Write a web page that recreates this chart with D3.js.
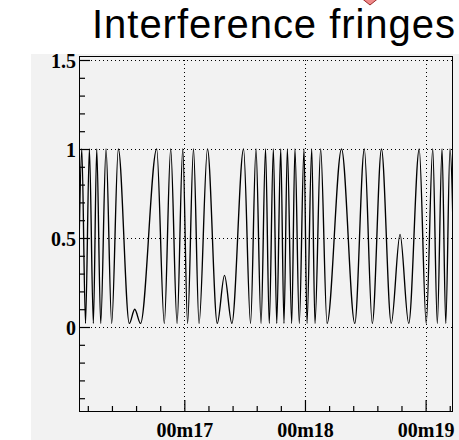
<!DOCTYPE html>
<html>
<head>
<meta charset="utf-8">
<script src="https://cdn.jsdelivr.net/npm/d3@7"></script>
<style>
  html, body { margin: 0; padding: 0; background: #ffffff; }
  svg { display: block; }
</style>
</head>
<body>
<svg id="chart" width="459" height="440"></svg>
<script>
// ---- data ----
const title = "Interference fringes";
// time in seconds (axis shows 00mSS)
const times = [
  16.130, 16.150, 16.181, 16.213, 16.246, 16.274, 16.307, 16.351, 16.398, 16.453,
  16.544, 16.589, 16.637, 16.771, 16.834, 16.887, 16.940, 16.987, 17.027, 17.076,
  17.122, 17.192, 17.273, 17.333, 17.394, 17.491, 17.549, 17.594, 17.636, 17.673,
  17.704, 17.738, 17.766, 17.799, 17.826, 17.854, 17.890, 17.917, 17.953, 17.992,
  18.017, 18.056, 18.083, 18.130, 18.183, 18.303, 18.413, 18.492, 18.558, 18.634,
  18.715, 18.788, 18.860, 18.947, 19.005, 19.059, 19.097, 19.136, 19.167, 19.202,
  19.243
];
const values = [
  0.55, 1.00, 0.02, 1.00, 0.02, 1.00, 0.02, 1.00, 0.02, 1.00,
  0.02, 0.10, 0.02, 1.00, 0.02, 1.00, 0.02, 1.00, 0.02, 1.00,
  0.02, 1.00, 0.02, 0.29, 0.02, 1.00, 0.02, 1.00, 0.02, 1.00,
  0.02, 1.00, 0.02, 1.00, 0.02, 1.00, 0.02, 1.00, 0.02, 1.00,
  0.02, 1.00, 0.02, 1.00, 0.02, 1.00, 0.02, 1.00, 0.02, 1.00,
  0.02, 0.52, 0.02, 1.00, 0.02, 1.00, 0.02, 1.00, 0.02, 1.00,
  0.02
];
const xDomain = [16.127, 19.227];
const yDomain = [-0.4775, 1.5225];
const xMajorTicks = [17, 18, 19];
const xMinorTicks = [16.2, 16.4, 16.6, 16.8, 17.2, 17.4, 17.6, 17.8, 18.2, 18.4, 18.6, 18.8, 19.2];
const yMajorTicks = [0, 0.5, 1, 1.5];
const yMinorTicks = [-0.4, -0.3, -0.2, -0.1, 0.1, 0.2, 0.3, 0.4, 0.6, 0.7, 0.8, 0.9, 1.1, 1.2, 1.3, 1.4];

// ---- layout ----
const frame = { left: 79, right: 453, top: 56, bottom: 412 };
const svg = d3.select("#chart");

// pad background
svg.append("rect").attr("x", 31).attr("y", 54).attr("width", 459 - 31).attr("height", 440 - 54)
  .attr("fill", "#f2f2f2");

// partially visible marker at the top
svg.append("path")
  .attr("d", "M370,-11 L380,-3 L370,5 L360,-3 Z")
  .attr("fill", "#f08a8a").attr("stroke", "#9a2a2a").attr("stroke-width", 1);

// title
svg.append("text")
  .attr("x", 455).attr("y", 38)
  .attr("text-anchor", "end")
  .attr("font-family", "'Liberation Sans', Arial, sans-serif")
  .attr("font-size", 40)
  .attr("textLength", 363).attr("lengthAdjust", "spacing")
  .attr("fill", "#000")
  .text(title);

const x = d3.scaleLinear().domain(xDomain).range([frame.left, frame.right]);
const y = d3.scaleLinear().domain(yDomain).range([frame.bottom, frame.top]);

// clip
svg.append("defs").append("clipPath").attr("id", "clip")
  .append("rect").attr("x", frame.left).attr("y", frame.top)
  .attr("width", frame.right - frame.left).attr("height", frame.bottom - frame.top);

// data line
const line = d3.line().x((d, i) => x(times[i])).y(d => y(d)).curve(d3.curveMonotoneX);
svg.append("path")
  .attr("clip-path", "url(#clip)")
  .attr("d", line(values))
  .attr("fill", "none").attr("stroke", "#000").attr("stroke-width", 1.35);

// grid (dotted)
const grid = svg.append("g").attr("stroke", "#000").attr("stroke-width", 1)
  .attr("stroke-dasharray", "1,3").attr("fill", "none");
grid.selectAll("line.h").data(yMajorTicks).join("line").attr("class", "h")
  .attr("x1", frame.left).attr("x2", frame.right)
  .attr("y1", d => Math.round(y(d)) + 0.5).attr("y2", d => Math.round(y(d)) + 0.5);
grid.selectAll("line.v").data(xMajorTicks).join("line").attr("class", "v")
  .attr("y1", frame.top).attr("y2", frame.bottom)
  .attr("x1", d => Math.round(x(d)) + 0.5).attr("x2", d => Math.round(x(d)) + 0.5);

// frame
svg.append("rect")
  .attr("x", frame.left + 0.5).attr("y", frame.top + 0.5)
  .attr("width", frame.right - frame.left - 1).attr("height", frame.bottom - frame.top - 1)
  .attr("fill", "none").attr("stroke", "#000").attr("stroke-width", 1);

// axes
const fontAxis = "'Liberation Serif', 'Times New Roman', serif";
const yMinorAxis = d3.axisLeft(y).tickValues(yMinorTicks).tickSize(-6).tickFormat("");
const yMajorAxis = d3.axisLeft(y).tickValues(yMajorTicks).tickSize(-11).tickPadding(3)
  .tickFormat(d => d3.format("")(d));
const xMinorAxis = d3.axisBottom(x).tickValues(xMinorTicks).tickSize(-6).tickFormat("");
const xMajorAxis = d3.axisBottom(x).tickValues(xMajorTicks).tickSize(-12).tickPadding(11)
  .tickFormat(d => "00m" + d3.format("02d")(d));

function styleAxis(g) {
  g.select(".domain").remove();
  g.selectAll("line").attr("stroke", "#000").attr("stroke-width", 1.2);
  g.selectAll("text").attr("font-family", fontAxis).attr("font-weight", "bold")
    .attr("font-size", 20).attr("fill", "#000");
}
svg.append("g").attr("transform", `translate(${frame.left},0)`).call(yMinorAxis).call(styleAxis);
svg.append("g").attr("transform", `translate(${frame.left},0)`).call(yMajorAxis).call(styleAxis)
  .selectAll("text").attr("dy", "0.36em");
svg.append("g").attr("transform", `translate(0,${frame.bottom})`).call(xMinorAxis).call(styleAxis);
svg.append("g").attr("transform", `translate(0,${frame.bottom})`).call(xMajorAxis).call(styleAxis);
</script>
</body>
</html>
